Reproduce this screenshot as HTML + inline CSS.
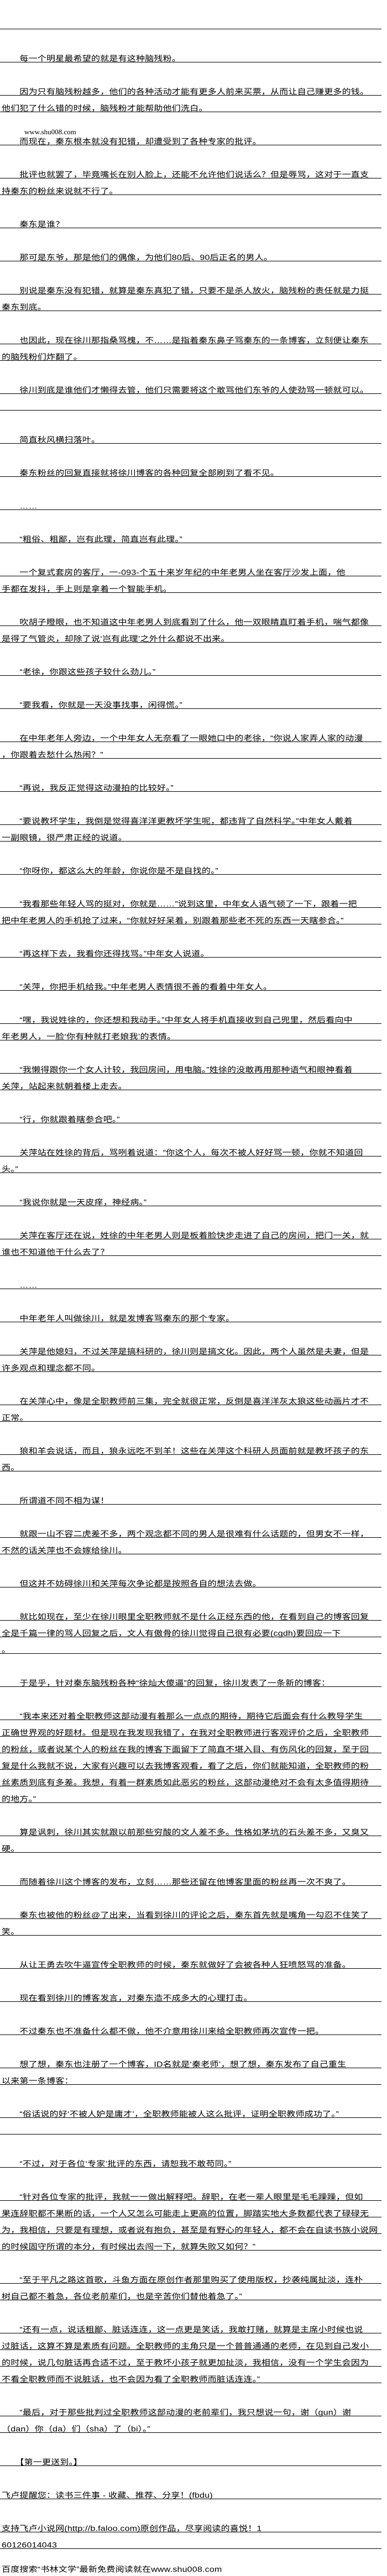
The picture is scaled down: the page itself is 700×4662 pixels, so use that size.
<!DOCTYPE html>
<html><head><meta charset="utf-8">
<style>
html,body{margin:0;padding:0;background:#fff;}
body{width:700px;height:4662px;position:relative;overflow:hidden;font-family:"Liberation Sans","Noto Sans CJK SC","WenQuanYi Zen Hei",sans-serif;color:#000;}
.r{position:absolute;left:0;width:690px;height:29px;border-bottom:1px solid #000;}
.r span{position:absolute;left:3px;bottom:-2px;font-size:16px;line-height:16px;white-space:nowrap;letter-spacing:0.2px;transform:scaleY(0.86);transform-origin:bottom left;}
.w{position:absolute;font-family:"Liberation Serif",serif;font-size:13px;}
</style></head><body>
<div class="r" style="top:23px"></div>
<div class="r" style="top:83px"><span>　　每一个明星最希望的就是有这种脑残粉。</span></div>
<div class="r" style="top:143px"><span>　　因为只有脑残粉越多，他们的各种活动才能有更多人前来买票，从而让自己赚更多的钱。</span></div>
<div class="r" style="top:173px"><span>他们犯了什么错的时候，脑残粉才能帮助他们洗白。</span></div>
<div class="w" style="left:44px;top:231px">www.shu008.com</div>
<div class="r" style="top:233px"><span>　　而现在，秦东根本就没有犯错，却遭受到了各种专家的批评。</span></div>
<div class="r" style="top:293px"><span>　　批评也就罢了，毕竟嘴长在别人脸上，还能不允许他们说话么？但是辱骂，这对于一直支</span></div>
<div class="r" style="top:323px"><span>持秦东的粉丝来说就不行了。</span></div>
<div class="r" style="top:383px"><span>　　秦东是谁？</span></div>
<div class="r" style="top:443px"><span>　　那可是东爷，那是他们的偶像，为他们80后、90后正名的男人。</span></div>
<div class="r" style="top:503px"><span>　　别说是秦东没有犯错，就算是秦东真犯了错，只要不是杀人放火，脑残粉的责任就是力挺</span></div>
<div class="r" style="top:533px"><span>秦东到底。</span></div>
<div class="r" style="top:593px"><span>　　也因此，现在徐川那指桑骂槐，不……是指着秦东鼻子骂秦东的一条博客，立刻便让秦东</span></div>
<div class="r" style="top:623px"><span>的脑残粉们炸翻了。</span></div>
<div class="r" style="top:683px"><span>　　徐川到底是谁他们才懒得去管，他们只需要将这个敢骂他们东爷的人使劲骂一顿就可以。</span></div>
<div class="r" style="top:713px"></div>
<div class="r" style="top:773px"><span>　　简直秋风横扫落叶。</span></div>
<div class="r" style="top:833px"><span>　　秦东粉丝的回复直接就将徐川博客的各种回复全部刷到了看不见。</span></div>
<div class="r" style="top:893px"><span>　　……</span></div>
<div class="r" style="top:953px"><span>　　“粗俗、粗鄙，岂有此理，简直岂有此理。”</span></div>
<div class="r" style="top:1013px"><span>　　一个复式套房的客厅，一-093-个五十来岁年纪的中年老男人坐在客厅沙发上面，他</span></div>
<div class="r" style="top:1043px"><span>手都在发抖，手上则是拿着一个智能手机。</span></div>
<div class="r" style="top:1103px"><span>　　吹胡子瞪眼，也不知道这中年老男人到底看到了什么，他一双眼睛直盯着手机，喘气都像</span></div>
<div class="r" style="top:1133px"><span>是得了气管炎，却除了说‘岂有此理’之外什么都说不出来。</span></div>
<div class="r" style="top:1193px"><span>　　“老徐，你跟这些孩子较什么劲儿。”</span></div>
<div class="r" style="top:1253px"><span>　　“要我看，你就是一天没事找事，闲得慌。”</span></div>
<div class="r" style="top:1313px"><span>　　在中年老年人旁边，一个中年女人无奈看了一眼她口中的老徐，“你说人家弄人家的动漫</span></div>
<div class="r" style="top:1343px"><span>，你跟着去愁什么热闹？”</span></div>
<div class="r" style="top:1403px"><span>　　“再说，我反正觉得这动漫拍的比较好。”</span></div>
<div class="r" style="top:1463px"><span>　　“要说教坏学生，我倒是觉得喜洋洋更教坏学生呢，都违背了自然科学。”中年女人戴着</span></div>
<div class="r" style="top:1493px"><span>一副眼镜，很严肃正经的说道。</span></div>
<div class="r" style="top:1553px"><span>　　“你呀你，都这么大的年龄，你说你是不是自找的。”</span></div>
<div class="r" style="top:1613px"><span>　　“我看那些年轻人骂的挺对，你就是……”说到这里，中年女人语气顿了一下，跟着一把</span></div>
<div class="r" style="top:1643px"><span>把中年老男人的手机抢了过来，“你就好好呆着，别跟着那些老不死的东西一天瞎参合。”</span></div>
<div class="r" style="top:1703px"><span>　　“再这样下去，我看你还得找骂。”中年女人说道。</span></div>
<div class="r" style="top:1763px"><span>　　“关萍，你把手机给我。”中年老男人表情很不善的看着中年女人。</span></div>
<div class="r" style="top:1823px"><span>　　“嘿，我说姓徐的，你还想和我动手。”中年女人将手机直接收到自己兜里，然后看向中</span></div>
<div class="r" style="top:1853px"><span>年老男人，一脸‘你有种就打老娘我’的表情。</span></div>
<div class="r" style="top:1913px"><span>　　“我懒得跟你一个女人计较，我回房间，用电脑。”姓徐的没敢再用那种语气和眼神看着</span></div>
<div class="r" style="top:1943px"><span>关萍，站起来就朝着楼上走去。</span></div>
<div class="r" style="top:2003px"><span>　　“行，你就跟着瞎参合吧。”</span></div>
<div class="r" style="top:2063px"><span>　　关萍站在姓徐的背后，骂咧着说道：“你这个人，每次不被人好好骂一顿，你就不知道回</span></div>
<div class="r" style="top:2093px"><span>头。”</span></div>
<div class="r" style="top:2153px"><span>　　“我说你就是一天皮痒，神经病。”</span></div>
<div class="r" style="top:2213px"><span>　　关萍在客厅还在说，姓徐的中年老男人则是板着脸快步走进了自己的房间，把门一关，就</span></div>
<div class="r" style="top:2243px"><span>谁也不知道他干什么去了？</span></div>
<div class="r" style="top:2303px"><span>　　……</span></div>
<div class="r" style="top:2363px"><span>　　中年老年人叫做徐川，就是发博客骂秦东的那个专家。</span></div>
<div class="r" style="top:2423px"><span>　　关萍是他媳妇，不过关萍是搞科研的，徐川则是搞文化。因此，两个人虽然是夫妻，但是</span></div>
<div class="r" style="top:2453px"><span>许多观点和理念都不同。</span></div>
<div class="r" style="top:2513px"><span>　　在关萍心中，像是全职教师前三集，完全就很正常，反倒是喜洋洋灰太狼这些动画片才不</span></div>
<div class="r" style="top:2543px"><span>正常。</span></div>
<div class="r" style="top:2603px"><span>　　狼和羊会说话，而且，狼永远吃不到羊！这些在关萍这个科研人员面前就是教坏孩子的东</span></div>
<div class="r" style="top:2633px"><span>西。</span></div>
<div class="r" style="top:2693px"><span>　　所谓道不同不相为谋！</span></div>
<div class="r" style="top:2753px"><span>　　就跟一山不容二虎差不多，两个观念都不同的男人是很难有什么话题的，但男女不一样，</span></div>
<div class="r" style="top:2783px"><span>不然的话关萍也不会嫁给徐川。</span></div>
<div class="r" style="top:2843px"><span>　　但这并不妨碍徐川和关萍每次争论都是按照各自的想法去做。</span></div>
<div class="r" style="top:2903px"><span>　　就比如现在，至少在徐川眼里全职教师就不是什么正经东西的他，在看到自己的博客回复</span></div>
<div class="r" style="top:2933px"><span>全是千篇一律的骂人回复之后，文人有傲骨的徐川觉得自己很有必要(cgdh)要回应一下</span></div>
<div class="r" style="top:2963px"><span>。</span></div>
<div class="r" style="top:3023px"><span>　　于是乎，针对秦东脑残粉各种“徐灿大傻逼”的回复，徐川发表了一条新的博客：</span></div>
<div class="r" style="top:3083px"><span>　　“我本来还对着全职教师这部动漫有着那么一点点的期待，期待它后面会有什么教导学生</span></div>
<div class="r" style="top:3113px"><span>正确世界观的好题材。但是现在我发现我错了，在我对全职教师进行客观评价之后，全职教师</span></div>
<div class="r" style="top:3143px"><span>的粉丝，或者说某个人的粉丝在我的博客下面留下了简直不堪入目、有伤风化的回复，至于回</span></div>
<div class="r" style="top:3173px"><span>复是什么我就不说，大家有兴趣可以去我博客观看，看了之后，你们就能知道，全职教师的粉</span></div>
<div class="r" style="top:3203px"><span>丝素质到底有多差。我想，有着一群素质如此恶劣的粉丝，这部动漫绝对不会有太多值得期待</span></div>
<div class="r" style="top:3233px"><span>的地方。”</span></div>
<div class="r" style="top:3293px"><span>　　算是讽刺，徐川其实就跟以前那些穷酸的文人差不多。性格如茅坑的石头差不多，又臭又</span></div>
<div class="r" style="top:3323px"><span>硬。</span></div>
<div class="r" style="top:3383px"><span>　　而随着徐川这个博客的发布，立刻……那些还留在他博客里面的粉丝再一次不爽了。</span></div>
<div class="r" style="top:3443px"><span>　　秦东也被他的粉丝@了出来，当看到徐川的评论之后，秦东首先就是嘴角一勾忍不住笑了</span></div>
<div class="r" style="top:3473px"><span>笑。</span></div>
<div class="r" style="top:3533px"><span>　　从让王勇去吹牛逼宣传全职教师的时候，秦东就做好了会被各种人狂喷怒骂的准备。</span></div>
<div class="r" style="top:3593px"><span>　　现在看到徐川的博客发言，对秦东造不成多大的心理打击。</span></div>
<div class="r" style="top:3653px"><span>　　不过秦东也不准备什么都不做，他不介意用徐川来给全职教师再次宣传一把。</span></div>
<div class="r" style="top:3713px"><span>　　想了想，秦东也注册了一个博客，ID名就是‘秦老师’，想了想，秦东发布了自己重生</span></div>
<div class="r" style="top:3743px"><span>以来第一条博客：</span></div>
<div class="r" style="top:3803px"><span>　　“俗话说的好‘不被人妒是庸才’，全职教师能被人这么批评，证明全职教师成功了。”</span></div>
<div class="r" style="top:3833px"></div>
<div class="r" style="top:3893px"><span>　　“不过，对于各位‘专家’批评的东西，请恕我不敢苟同。”</span></div>
<div class="r" style="top:3953px"><span>　　“针对各位专家的批评，我就一一做出解释吧。辞职，在老一辈人眼里是毛毛躁躁，但如</span></div>
<div class="r" style="top:3983px"><span>果连辞职都不果断的话，一个人又怎么可能走上更高的位置，脚踏实地大多数都代表了碌碌无</span></div>
<div class="r" style="top:4013px"><span>为，我相信，只要是有理想，或者说有抱负，甚至是有野心的年轻人，都不会在自读书族小说网</span></div>
<div class="r" style="top:4043px"><span>的时候固守所谓的本分，有时候出去闯一下，就算失败又如何？”</span></div>
<div class="r" style="top:4103px"><span>　　“至于平凡之路这首歌，斗鱼方面在原创作者那里购买了使用版权，抄袭纯属扯淡，连朴</span></div>
<div class="r" style="top:4133px"><span>树自己都不着急，各位老前辈们，也是辛苦你们替他着急了。”</span></div>
<div class="r" style="top:4193px"><span>　　“还有一点，说话粗鄙、脏话连连，这一点更是笑话，我敢打赌，就算是主席小时候也说</span></div>
<div class="r" style="top:4223px"><span>过脏话，这算不算是素质有问题。全职教师的主角只是一个普普通通的老师，在见到自己发小</span></div>
<div class="r" style="top:4253px"><span>的时候，说几句脏话再合适不过，至于教坏小孩子就更加扯淡，我相信，没有一个学生会因为</span></div>
<div class="r" style="top:4283px"><span>不看全职教师而不说脏话，也不会因为看了全职教师而脏话连连。”</span></div>
<div class="r" style="top:4343px"><span>　　“最后，对于那些批判过全职教师这部动漫的老前辈们，我只想说一句，谢（gun）谢</span></div>
<div class="r" style="top:4373px"><span>（dan）你（da）们（sha）了（bi）。”</span></div>
<div class="r" style="top:4433px"><span>　　【第一更送到。】</span></div>
<div class="r" style="top:4493px"><span>飞卢提醒您：读书三件事 - 收藏、推荐、分享！(fbdu)</span></div>
<div class="r" style="top:4553px"><span>支持飞卢小说网(http://b.faloo.com)原创作品，尽享阅读的喜悦！1</span></div>
<div class="r" style="top:4583px"><span>60126014043</span></div>
<div class="r" style="top:4627px;border-bottom:none"><span>百度搜索“书林文学”最新免费阅读就在www.shu008.com</span></div>
</body></html>
